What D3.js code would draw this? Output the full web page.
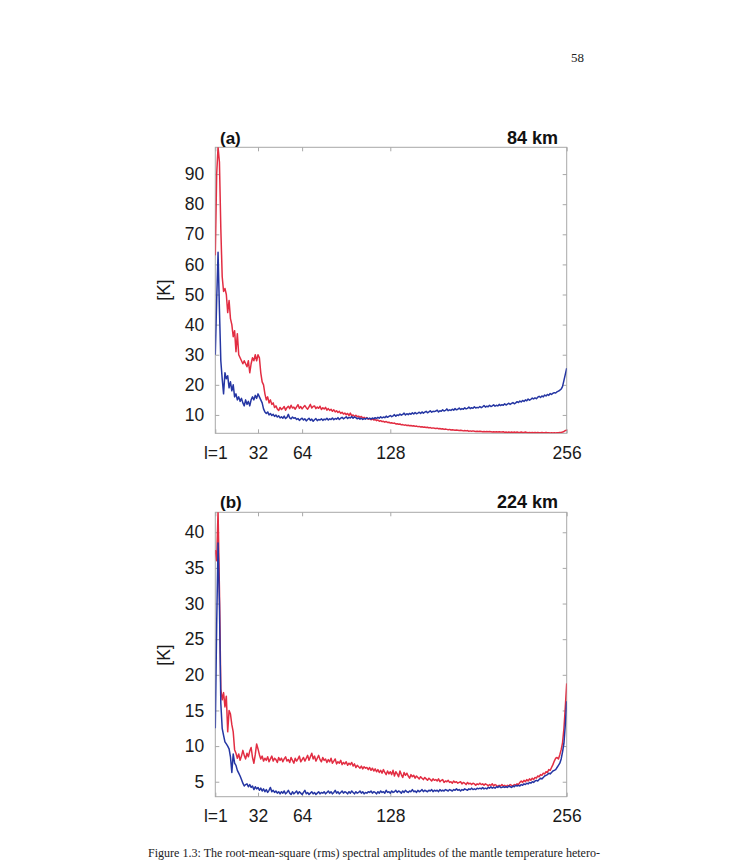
<!DOCTYPE html>
<html>
<head>
<meta charset="utf-8">
<script src="https://cdn.jsdelivr.net/npm/d3@7"></script>
<style>
  html, body { margin: 0; padding: 0; background: #fff; }
  svg { display: block; }
</style>
</head>
<body>
<svg id="chart" width="748" height="861"></svg>
<script>
// ---------- data ----------
const degrees = d3.range(1, 257); // spherical harmonic degree l = 1..256
const xTicks = [1, 32, 64, 128, 256];
const xTickLabels = ["l=1", "32", "64", "128", "256"];
const yTicksA = [10, 20, 30, 40, 50, 60, 70, 80, 90];
const yTicksB = [5, 10, 15, 20, 25, 30, 35, 40];
const panelLetters = ["(a)", "(b)"];
const panelDepths = ["84 km", "224 km"];
const yLabel = "[K]";
const pageNumber = "58";
const captionText = "Figure 1.3: The root-mean-square (rms) spectral amplitudes of the mantle temperature hetero-";

// panel (a) 84 km — red series
const aRed = [
  63, 90, 99, 94, 72, 56, 51, 52, 50, 44, 48, 42, 40, 36, 38, 31,
  37, 30, 29, 28, 27, 28, 27, 26, 28, 24, 27, 29, 28, 30, 28, 30,
  29, 24, 21, 20, 17, 15, 16, 14, 15, 13.5, 14, 12.5, 13, 12, 11.5, 12.5,
  11.8, 12.2, 12.8, 11.6, 12.4, 12.9, 12.1, 13.2, 12.3, 12.6, 11.9, 12.7, 13.4, 12.2, 12.8, 12.0,
  12.6, 13.1, 12.4, 11.9, 12.7, 13.5, 12.3, 12.8, 13.0, 12.1, 12.6, 12.2, 12.9, 11.8, 12.4, 12.0,
  12.5, 11.6, 12.1, 11.5, 11.9, 11.2, 11.7, 11.0, 11.4, 10.8, 11.2, 10.5, 10.9, 10.3, 10.6, 10.1,
  10.5, 9.8, 10.6, 9.7, 10.0, 9.5, 9.9, 9.4, 9.6, 9.2, 9.5, 9.0, 9.2, 8.8, 9.1, 8.6,
  8.8, 8.4, 8.7, 8.3, 8.5, 8.1, 8.3, 7.9, 8.1, 7.8, 7.9, 7.6, 7.8, 7.5, 7.6, 7.3,
  7.4, 7.2, 7.3, 7.0, 7.1, 6.9, 7.0, 6.7, 6.8, 6.6, 6.7, 6.5, 6.6, 6.4, 6.5, 6.3,
  6.4, 6.2, 6.3, 6.1, 6.2, 6.0, 6.1, 5.9, 6.0, 5.8, 5.9, 5.7, 5.8, 5.6, 5.7, 5.6,
  5.5, 5.6, 5.4, 5.5, 5.3, 5.4, 5.2, 5.3, 5.2, 5.1, 5.2, 5.0, 5.1, 5.0, 4.9, 5.0,
  4.9, 4.8, 4.9, 4.8, 4.7, 4.8, 4.7, 4.8, 4.6, 4.7, 4.6, 4.7, 4.6, 4.5, 4.6, 4.5,
  4.6, 4.5, 4.4, 4.5, 4.4, 4.5, 4.4, 4.5, 4.4, 4.3, 4.4, 4.3, 4.4, 4.3, 4.4, 4.3,
  4.3, 4.4, 4.2, 4.3, 4.2, 4.3, 4.2, 4.3, 4.2, 4.3, 4.2, 4.3, 4.2, 4.2, 4.3, 4.2,
  4.2, 4.3, 4.2, 4.1, 4.2, 4.1, 4.2, 4.1, 4.2, 4.1, 4.2, 4.1, 4.1, 4.2, 4.1, 4.1,
  4.2, 4.1, 4.1, 4.0, 4.1, 4.0, 4.1, 4.0, 4.1, 4.1, 4.2, 4.2, 4.3, 4.5, 4.8, 5.0
];
// panel (a) 84 km — blue series
const aBlue = [
  30, 48, 64, 45, 28, 22, 17, 24, 22, 23, 19, 21, 18, 20, 16, 17,
  15, 16, 14.5, 15.5, 14, 13, 15, 13.5, 14.5, 13, 15, 16, 15, 16.5, 15.5, 17,
  16, 15, 14, 12, 11, 10.5, 11, 10, 10.5, 9.8, 10.2, 9.5, 10, 9.3, 9.7, 9.0,
  9.4, 8.9, 9.6, 8.8, 9.2, 10.2, 9.0, 8.7, 9.3, 8.9, 9.1, 8.5, 8.8, 8.2, 8.6, 8.9,
  8.3, 8.7, 8.0, 8.5, 8.9, 8.2, 8.6, 7.9, 8.4, 8.8, 8.1, 8.5, 8.3, 8.7, 8.2, 8.6,
  8.4, 8.9, 8.3, 8.7, 8.5, 9.0, 8.4, 8.8, 8.6, 9.1, 8.5, 8.9, 9.2, 8.7, 9.0, 9.4,
  8.8, 9.2, 9.0, 9.5, 8.9, 9.3, 9.1, 8.7, 9.0, 8.6, 8.9, 8.5, 8.8, 8.6, 9.0, 8.7,
  8.9, 8.6, 9.0, 8.7, 9.1, 8.8, 9.2, 8.9, 9.4, 9.0, 9.3, 9.1, 9.6, 9.2, 9.5, 9.8,
  9.4, 9.7, 10.1, 9.6, 10.0, 9.8, 10.3, 9.9, 10.2, 10.6, 10.0, 10.4, 10.1, 10.5, 10.2, 10.7,
  10.3, 10.8, 10.4, 10.6, 10.9, 10.5, 11.0, 10.6, 10.9, 11.2, 10.7, 11.0, 11.4, 10.9, 11.2, 11.1,
  11.3, 11.6, 11.0, 11.4, 11.2, 11.7, 11.3, 11.5, 12.0, 11.4, 11.7, 11.5, 11.9, 11.6, 12.1, 11.7,
  11.9, 12.3, 11.8, 12.1, 11.9, 12.4, 12.0, 12.2, 12.6, 12.1, 12.4, 12.2, 12.7, 12.3, 12.5, 12.4,
  12.8, 12.4, 12.7, 13.1, 12.6, 12.9, 12.7, 13.2, 12.8, 13.0, 13.4, 12.9, 13.2, 13.0, 13.5, 13.1,
  13.4, 13.2, 13.7, 13.3, 13.6, 13.9, 13.5, 13.8, 14.1, 13.7, 14.0, 14.4, 14.1, 14.6, 14.3, 14.8,
  14.5, 15.0, 14.7, 15.3, 14.9, 15.2, 15.6, 15.3, 15.7, 15.4, 15.9, 16.2, 15.8, 16.3, 16.0, 16.6,
  16.3, 16.8, 16.5, 17.1, 16.8, 17.2, 17.4, 17.3, 17.7, 17.9, 18.2, 18.6, 19.5, 21.5, 23.5, 25.5
];
// panel (b) 224 km — red series
const bRed = [
  37.5, 36, 43, 32, 18, 16.5, 17.5, 15.5, 17, 12, 15, 14.5, 13, 12, 9.5, 9,
  8.3, 8.9, 8.0, 8.6, 9.4, 8.7, 8.2, 9.0, 8.5, 9.3, 9.8, 8.4, 7.6, 8.8, 10.3, 9.6,
  8.8, 8.2, 8.6, 7.9, 8.3, 8.0, 8.5, 7.8, 8.2, 8.6, 7.9, 8.3, 8.1, 7.7, 8.4, 8.0,
  8.3, 7.8, 8.2, 8.5, 7.9, 8.1, 7.7, 8.4, 8.0, 7.6, 8.3, 7.9, 8.2, 8.6, 7.8, 8.1,
  8.4, 7.9, 8.3, 8.7, 8.0, 8.5, 9.0, 8.2, 8.6, 7.9, 8.3, 8.7, 8.1, 7.8, 8.4, 8.0,
  8.2, 7.7, 8.1, 7.8, 8.3, 7.6, 7.9, 8.2, 7.5, 7.8, 7.6, 8.0, 7.4, 7.7, 7.5, 7.8,
  7.3, 7.6, 7.4, 7.7, 7.2, 7.5, 7.0, 7.3, 7.1, 6.9, 7.2, 6.8, 7.1, 6.9, 7.0, 6.7,
  7.0, 6.6, 6.9, 6.5, 6.8, 6.4, 6.7, 6.3, 6.6, 6.2, 6.7, 6.3, 6.0, 6.5, 6.1, 6.4,
  6.0, 6.6, 5.8, 6.4, 6.1, 5.7, 6.5, 6.0, 5.6, 6.3, 5.9, 6.2, 5.8, 5.5, 6.0, 5.7,
  5.9, 5.5, 5.8, 5.6, 5.4, 5.7, 5.5, 5.3, 5.6, 5.4, 5.2, 5.5, 5.3, 5.1, 5.4, 5.2,
  5.3, 5.1, 5.4, 5.0, 5.2, 5.3, 4.9, 5.1, 5.0, 5.2, 4.9, 5.0, 4.8, 5.1, 4.9, 5.0,
  4.8, 4.9, 5.0, 4.7, 4.9, 4.8, 4.6, 4.9, 4.7, 4.8, 4.6, 4.8, 4.7, 4.5, 4.7, 4.6,
  4.8, 4.6, 4.7, 4.5, 4.7, 4.6, 4.4, 4.6, 4.5, 4.7, 4.4, 4.6, 4.5, 4.3, 4.5, 4.4,
  4.6, 4.4, 4.5, 4.3, 4.5, 4.4, 4.6, 4.5, 4.4, 4.6, 4.5, 4.7, 4.6, 4.9, 5.1, 4.9,
  5.2, 5.0, 5.3, 5.1, 5.4, 5.2, 5.5, 5.3, 5.6, 5.5, 5.8, 5.7, 6.0, 5.9, 6.2, 6.1,
  6.4, 6.3, 6.7, 6.6, 7.0, 7.4, 7.9, 8.3, 8.4, 8.2, 8.8, 9.5, 10.5, 12.5, 15.5, 18.8
];
// panel (b) 224 km — blue series
const bBlue = [
  12.5, 27, 38.5, 30, 16, 12.5, 11.5, 10.6, 10.3, 10.0, 9.6, 8.5, 6.3, 8.9, 7.6, 7.3,
  6.6, 6.2, 5.8, 5.3, 4.8, 4.4, 4.6, 4.7, 4.3, 4.6, 4.2, 4.4, 3.9, 4.3, 4.0, 4.2,
  3.8, 4.1, 3.7, 4.0, 3.6, 3.9, 3.5, 3.8, 4.2, 3.6, 3.8, 3.5, 3.7, 3.4, 3.6, 3.3,
  3.6, 3.4, 3.7, 3.3, 3.5, 3.8, 3.4, 3.2, 3.6, 3.3, 3.5, 3.7, 3.3, 3.6, 3.4, 3.2,
  3.5, 3.8, 3.3, 3.5, 3.2, 3.4, 3.6, 3.3, 3.5, 3.2, 3.4, 3.6, 3.3, 3.5, 3.4, 3.6,
  3.3, 3.5, 3.7, 3.4, 3.6, 3.3, 3.5, 3.8, 3.4, 3.6, 3.3, 3.5, 3.7, 3.4, 3.6, 3.5,
  3.3, 3.6, 3.4, 3.7, 3.5, 3.3, 3.6, 3.4, 3.5, 3.7, 3.4, 3.6, 3.3, 3.5, 3.4, 3.6,
  3.5, 3.7, 3.4, 3.6, 3.5, 3.3, 3.6, 3.4, 3.7, 3.5, 3.6, 3.4, 3.8, 3.5, 3.6, 3.4,
  3.7, 3.5, 3.6, 3.8, 3.5, 3.7, 3.6, 3.4, 3.7, 3.5, 3.8, 3.6, 3.5, 3.7, 3.6, 3.9,
  3.6, 3.7, 3.5, 3.8, 3.6, 3.7, 3.9, 3.6, 3.8, 3.7, 3.6, 3.8, 3.7, 3.9, 3.6, 3.8,
  3.7, 3.8, 3.6, 3.9, 3.7, 3.8, 3.7, 3.9, 3.8, 3.7, 3.9, 3.8, 3.7, 3.9, 3.8, 4.0,
  3.8, 3.9, 3.7, 3.9, 3.8, 4.0, 3.9, 3.8, 4.0, 3.9, 4.1, 3.9, 4.0, 3.9, 4.1, 4.0,
  4.1, 4.0, 4.2, 4.0, 4.1, 4.0, 4.2, 4.1, 4.3, 4.1, 4.2, 4.1, 4.3, 4.2, 4.4, 4.2,
  4.2, 4.3, 4.2, 4.3, 4.2, 4.4, 4.3, 4.2, 4.4, 4.3, 4.5, 4.4, 4.5, 4.4, 4.6, 4.5,
  4.7, 4.6, 4.8, 4.7, 4.9, 4.8, 5.0, 4.9, 5.1, 5.2, 5.1, 5.3, 5.5, 5.4, 5.6, 5.8,
  5.9, 6.0, 6.2, 6.1, 6.3, 6.5, 6.6, 6.7, 7.0, 7.3, 7.6, 8.2, 9.2, 10.4, 13.0, 16.3
];

// ---------- drawing ----------
const svg = d3.select("#chart");
const RED = "#e22d42";
const BLUE = "#2536a3";
const FRAME = "#a8a8a8";
const SANS = "'Liberation Sans', Arial, Helvetica, sans-serif";
const SERIF = "'Liberation Serif', 'Times New Roman', serif";

const panels = [
  { top: 147.3, bottom: 433.3, yDomain: [3.9, 98.9], yTicks: yTicksA,
    red: aRed, blue: aBlue, letter: panelLetters[0], depth: panelDepths[0], labelY: 144, kY: 290 },
  { top: 512.3, bottom: 796.7, yDomain: [2.9, 42.8], yTicks: yTicksB,
    red: bRed, blue: bBlue, letter: panelLetters[1], depth: panelDepths[1], labelY: 508, kY: 655 }
];
const left = 215.3, right = 566.7;

panels.forEach((p, i) => {
  const x = d3.scaleLinear().domain([1, 256]).range([left, right]);
  const y = d3.scaleLinear().domain(p.yDomain).range([p.bottom, p.top]);
  const g = svg.append("g");

  const clipId = "clip" + i;
  svg.append("defs").append("clipPath").attr("id", clipId)
    .append("rect").attr("x", left).attr("y", p.top)
    .attr("width", right - left).attr("height", p.bottom - p.top);

  // frame
  g.append("rect").attr("x", left).attr("y", p.top)
    .attr("width", right - left).attr("height", p.bottom - p.top)
    .attr("fill", "none").attr("stroke", FRAME).attr("stroke-width", 1);

  const styleAxis = sel => {
    sel.select(".domain").remove();
    sel.selectAll(".tick line").attr("stroke", FRAME);
    sel.selectAll(".tick text").attr("fill", "#1a1a1a")
      .style("font-family", SANS).style("font-size", "17.5px");
  };

  g.append("g").attr("transform", `translate(${left},0)`)
    .call(d3.axisLeft(y).tickValues(p.yTicks).tickSize(-4).tickPadding(11))
    .call(styleAxis);
  g.append("g").attr("transform", `translate(${right},0)`)
    .call(d3.axisRight(y).tickValues(p.yTicks).tickSize(-4).tickFormat(""))
    .call(styleAxis);
  g.append("g").attr("transform", `translate(0,${p.bottom})`)
    .call(d3.axisBottom(x).tickValues(xTicks).tickSize(-4).tickPadding(13.2)
      .tickFormat((d, k) => xTickLabels[k]))
    .call(styleAxis);
  g.append("g").attr("transform", `translate(0,${p.top})`)
    .call(d3.axisTop(x).tickValues(xTicks).tickSize(-4).tickFormat(""))
    .call(styleAxis);

  const line = d3.line().x((d, k) => x(degrees[k])).y(d => y(d));
  const lines = g.append("g").attr("clip-path", `url(#${clipId})`);
  lines.append("path").datum(p.red).attr("d", line)
    .attr("fill", "none").attr("stroke", RED).attr("stroke-width", 1.5)
    .attr("stroke-linejoin", "round");
  lines.append("path").datum(p.blue).attr("d", line)
    .attr("fill", "none").attr("stroke", BLUE).attr("stroke-width", 1.5)
    .attr("stroke-linejoin", "round");

  g.append("text").attr("x", 220).attr("y", p.labelY)
    .style("font-family", SANS).style("font-size", "17px").style("font-weight", "bold")
    .attr("fill", "#111").text(p.letter);
  g.append("text").attr("x", 558).attr("y", p.labelY).attr("text-anchor", "end")
    .style("font-family", SANS).style("font-size", "18px").style("font-weight", "bold")
    .attr("fill", "#111").text(p.depth);
  g.append("text").attr("transform", `translate(170,${p.kY}) rotate(-90)`)
    .attr("text-anchor", "middle")
    .style("font-family", SANS).style("font-size", "17.5px")
    .attr("fill", "#1a1a1a").text(yLabel);
});

svg.append("text").attr("x", 571).attr("y", 62)
  .style("font-family", SERIF).style("font-size", "13px")
  .attr("fill", "#222").text(pageNumber);

svg.append("text").attr("x", 148).attr("y", 857)
  .attr("textLength", 452).attr("lengthAdjust", "spacingAndGlyphs")
  .style("font-family", SERIF).style("font-size", "12.5px")
  .attr("fill", "#222").text(captionText);
</script>
</body>
</html>
